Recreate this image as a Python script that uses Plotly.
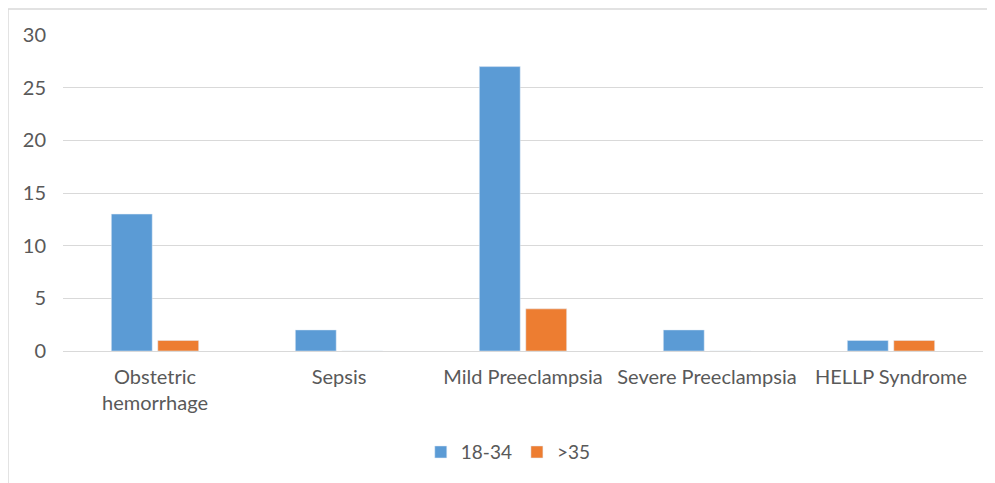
import plotly.graph_objects as go

categories = ["Obstetric<br>hemorrhage", "Sepsis", "Mild Preeclampsia", "Severe Preeclampsia", "HELLP Syndrome"]
series_names = ["18-34", ">35"]
values_18_34 = [13, 2, 27, 2, 1]
values_35 = [1, 0, 4, 0, 1]
y_ticks = [0, 5, 10, 15, 20, 25, 30]

font_family = "Lato, Open Sans, sans-serif"
text_color = "#595959"

fig = go.Figure()
fig.add_trace(go.Bar(x=categories, y=values_18_34, name=series_names[0], marker_color="#5B9BD5"))
fig.add_trace(go.Bar(x=categories, y=values_35, name=series_names[1], marker_color="#ED7D31"))

fig.update_layout(
    width=987, height=475,
    margin=dict(l=55, r=12, t=27, b=132, autoexpand=False),
    paper_bgcolor="white", plot_bgcolor="white",
    barmode="group", bargap=0.495, bargroupgap=0.12,
    font=dict(family=font_family, size=20, color=text_color),
    showlegend=True,
    legend=dict(orientation="h", x=0.484, xanchor="center", y=-0.32, yanchor="middle",
                font=dict(size=19, color=text_color), itemwidth=30, traceorder="normal"),
    xaxis=dict(showgrid=False, showline=False, ticks="", tickfont=dict(size=20),
               ticklabelstandoff=12),
    yaxis=dict(range=[0, 30], tickvals=y_ticks, showgrid=True, gridcolor="#d9d9d9", gridwidth=1,
               zeroline=True, zerolinecolor="#d9d9d9", zerolinewidth=1,
               showline=False, ticks="", ticklabelstandoff=16, tickfont=dict(size=20)),
    shapes=[
        dict(type="line", xref="paper", yref="paper", x0=-0.0598, x1=1.05, y0=1.0823, y1=1.0823,
             line=dict(color="#d9d9d9", width=1.5)),
        dict(type="line", xref="paper", yref="paper", x0=-0.0598, x1=-0.0598, y0=1.0823, y1=-0.5,
             line=dict(color="#d9d9d9", width=1.5)),
    ],
)

fig.write_html("out.html")
